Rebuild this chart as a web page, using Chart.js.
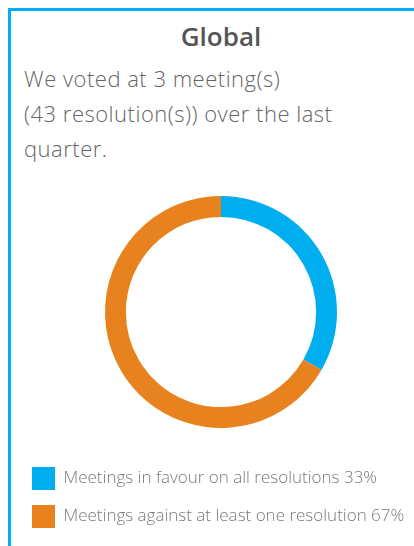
<!doctype html>
<html lang="en">
<head>
<meta charset="utf-8">
<title>Global</title>
<script src="https://cdn.jsdelivr.net/npm/chart.js"></script>
<style>
html, body { margin: 0; padding: 0; width: 414px; height: 546px; overflow: hidden; background: #fff; }
body { font-family: "Open Sans", sans-serif; position: relative; }
.frame { position: absolute; left: 8px; top: 8px; width: 500px; height: 600px;
  border-top: 3px solid #00AEEF; border-left: 3px solid #00AEEF; }
.title { position: absolute; left: 0; width: 442px; top: 18px; text-align: center;
  font-size: 26px; font-weight: 600; color: #555; line-height: 36px; }
.intro { position: absolute; left: 24px; top: 61px; font-size: 22px; font-weight: 300;
  color: #666; line-height: 35px; white-space: nowrap; letter-spacing: 0.5px; }
.wrap { position: absolute; left: 0; top: 172px; width: 425px; height: 374px; }
</style>
</head>
<body>
<div class="frame"></div>
<div class="title">Global</div>
<div class="intro">We voted at 3 meeting(s)<br>(43 resolution(s)) over the last<br>quarter.</div>
<div class="wrap"><canvas id="myChart"></canvas></div>

<script>
// meetings voted: in favour on all / against at least one
const labels = ['Meetings in favour on all resolutions 33%', 'Meetings against at least one resolution 67%'];
const values = [1, 2];
const colors = ['#00AEEF', '#E8821E'];

const data = {
	labels: labels,
	datasets: [{
		data: values,
		backgroundColor: colors,
		borderWidth: 0
	}]
};

const config = {
	type: 'doughnut',
	data: data,
	options: {
		responsive: true,
		maintainAspectRatio: false,
		animation: false,
		radius: 116,
		cutout: '82%',
		layout: { padding: { left: 17, right: 0, top: 0, bottom: 8 } },
		plugins: {
			tooltip: { enabled: false },
			legend: {
				position: 'bottom',
				align: 'start',
				labels: {
					boxWidth: 23,
					boxHeight: 23,
					padding: 15,
					color: '#7a7a7a',
					font: { family: '"Open Sans", sans-serif', size: 17, weight: '300' }
				}
			}
		}
	}
};

new Chart(document.getElementById('myChart'), config);
</script>
</body>
</html>
